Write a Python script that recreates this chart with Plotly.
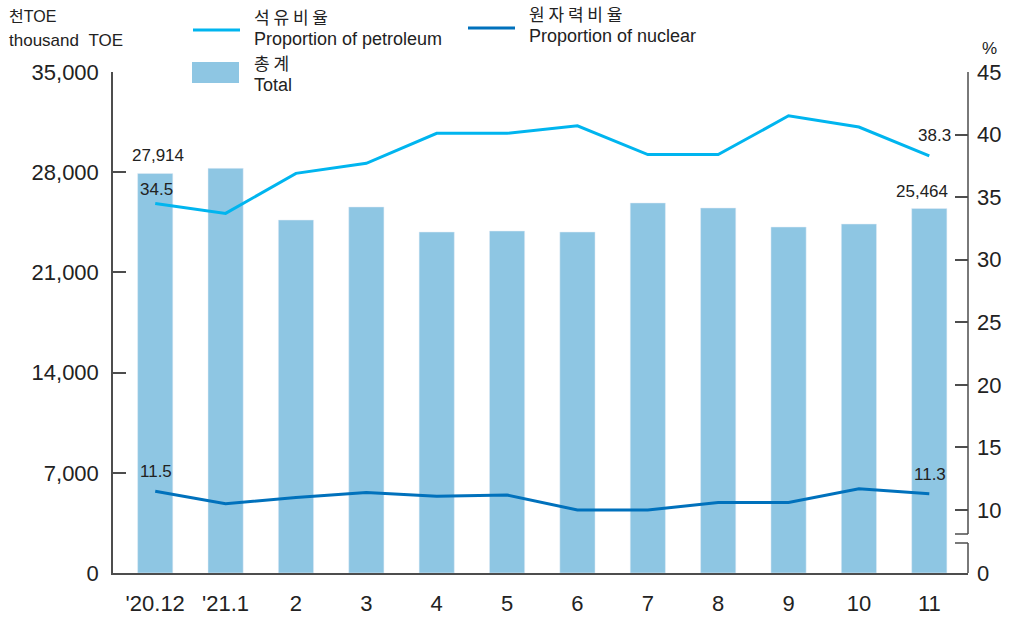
import plotly.graph_objects as go

# ---- data ----
categories = ["'20.12", "'21.1", "2", "3", "4", "5", "6", "7", "8", "9", "10", "11"]
total = [27914, 28270, 24660, 25570, 23820, 23890, 23820, 25850, 25500, 24170, 24380, 25464]
petroleum = [34.5, 33.7, 36.9, 37.7, 40.1, 40.1, 40.7, 38.4, 38.4, 41.5, 40.6, 38.3]
nuclear = [11.5, 10.5, 11.0, 11.4, 11.1, 11.2, 10.0, 10.0, 10.6, 10.6, 11.7, 11.3]
left_ticks = [0, 7000, 14000, 21000, 28000, 35000]
right_ticks = [10, 15, 20, 25, 30, 35, 40, 45]

# ---- layout geometry ----
W, H = 1015, 618
L, R, T, B = 113, 968, 72, 573
PW, PH = R - L, B - T

def px(x):
    return (x - L) / PW

def py(y):
    return (B - y) / PH

BAR = "#8EC6E3"
PET = "#00B5EF"
NUC = "#0071BC"
AX = "#4d4d4d"
TXT = "#222222"
FONT = "Liberation Sans, Arial, Noto Sans CJK KR, sans-serif"
KFONT = "Noto Sans CJK KR, Liberation Sans, sans-serif"
TICK = 22

# right axis: 10 at pixel 510, 45 at top
r_top = 45
r_bottom = r_top - (r_top - 10) * PH / (510 - T)

fig = go.Figure()
fig.add_trace(go.Bar(x=categories, y=total, marker_color=BAR, width=0.5,
                     name="총계 Total", yaxis="y"))
fig.add_trace(go.Scatter(x=categories, y=petroleum, mode="lines",
                         line=dict(color=PET, width=3), name="석유비율", yaxis="y2"))
fig.add_trace(go.Scatter(x=categories, y=nuclear, mode="lines",
                         line=dict(color=NUC, width=3), name="원자력비율", yaxis="y2"))

fig.update_layout(
    width=W, height=H,
    margin=dict(l=L, r=W - R, t=T, b=H - B),
    paper_bgcolor="white", plot_bgcolor="white",
    showlegend=False,
    font=dict(family=FONT, size=TICK, color=TXT),
    xaxis=dict(type="category", range=[-0.6, 11.55], showline=True, linecolor=AX,
               linewidth=1.5, ticks="", showgrid=False, zeroline=False,
               tickfont=dict(size=TICK, color=TXT), ticklabelstandoff=10,
               automargin=False),
    yaxis=dict(range=[0, 35000], tickvals=left_ticks, tickformat=",",
               ticks="inside", ticklen=13, tickwidth=1.5, tickcolor=AX,
               showline=True, linecolor=AX, linewidth=1.5, showgrid=False,
               zeroline=False, tickfont=dict(size=TICK, color=TXT),
               ticklabelstandoff=8, automargin=False),
    yaxis2=dict(overlaying="y", side="right", range=[r_bottom, r_top],
                tickvals=[r_bottom] + right_ticks,
                ticktext=["0"] + [str(v) for v in right_ticks],
                ticks="inside", ticklen=13, tickwidth=1.5, tickcolor=AX,
                showline=False, showgrid=False, zeroline=False,
                tickfont=dict(size=TICK, color=TXT), ticklabelstandoff=8,
                automargin=False),
)

# broken right axis line
shapes = []
brk_hi = py(534)
brk_lo = py(543)
tick_w = 13 / PW
shapes.append(dict(type="line", xref="paper", yref="paper", x0=1, x1=1, y0=1, y1=brk_hi,
                   line=dict(color=AX, width=1.5)))
shapes.append(dict(type="line", xref="paper", yref="paper", x0=1 - tick_w, x1=1, y0=brk_hi, y1=brk_hi,
                   line=dict(color=AX, width=1.5)))
shapes.append(dict(type="line", xref="paper", yref="paper", x0=1, x1=1, y0=brk_lo, y1=0,
                   line=dict(color=AX, width=1.5)))
shapes.append(dict(type="line", xref="paper", yref="paper", x0=1 - tick_w, x1=1, y0=brk_lo, y1=brk_lo,
                   line=dict(color=AX, width=1.5)))

# legend symbols
shapes.append(dict(type="line", xref="paper", yref="paper", x0=px(193), x1=px(240), y0=py(30), y1=py(30),
                   line=dict(color=PET, width=3)))
shapes.append(dict(type="line", xref="paper", yref="paper", x0=px(468), x1=px(515), y0=py(28), y1=py(28),
                   line=dict(color=NUC, width=3)))
shapes.append(dict(type="rect", xref="paper", yref="paper", x0=px(192), x1=px(239), y0=py(83), y1=py(62),
                   fillcolor=BAR, line=dict(width=0)))
fig.update_layout(shapes=shapes)

ann = []

def text(x, y, s, size=17, fam=FONT, anchor="left"):
    ann.append(dict(x=px(x), y=py(y), xref="paper", yref="paper", text=s, showarrow=False,
                    xanchor=anchor, yanchor="middle", font=dict(size=size, family=fam, color=TXT)))

text(7, 17, "천TOE", 16)
text(7, 40, "thousand\u00a0\u00a0TOE", 17)
text(252, 17, "석 유 비 율", 17, KFONT)
text(252, 39, "Proportion of petroleum", 18)
text(527, 13, "원 자 력 비 율", 17, KFONT)
text(527, 36, "Proportion of nuclear", 18)
text(252, 63, "총 계", 17, KFONT)
text(252, 85, "Total", 18)
text(990, 49, "%", 17, anchor="center")

# data labels
def dlabel(i, yval, yref, s, xshift=0, yshift=0):
    ann.append(dict(x=categories[i], y=yval, xref="x", yref=yref, text=s, showarrow=False,
                    xanchor="center", yanchor="middle", xshift=xshift, yshift=yshift,
                    font=dict(size=17, family=FONT, color=TXT)))

dlabel(0, total[0], "y", f"{total[0]:,}", 3, 18)
dlabel(0, petroleum[0], "y2", f"{petroleum[0]}", 1, 14)
dlabel(0, nuclear[0], "y2", f"{nuclear[0]}", 1, 20)
dlabel(11, total[11], "y", f"{total[11]:,}", -7, 17)
dlabel(11, petroleum[11], "y2", f"{petroleum[11]}", 5, 20)
dlabel(11, nuclear[11], "y2", f"{nuclear[11]}", 1, 19)

fig.update_layout(annotations=ann)
fig.write_html("out.html", config={"displayModeBar": False},
               post_script="document.body.style.margin='0px';document.body.style.padding='0px';")
